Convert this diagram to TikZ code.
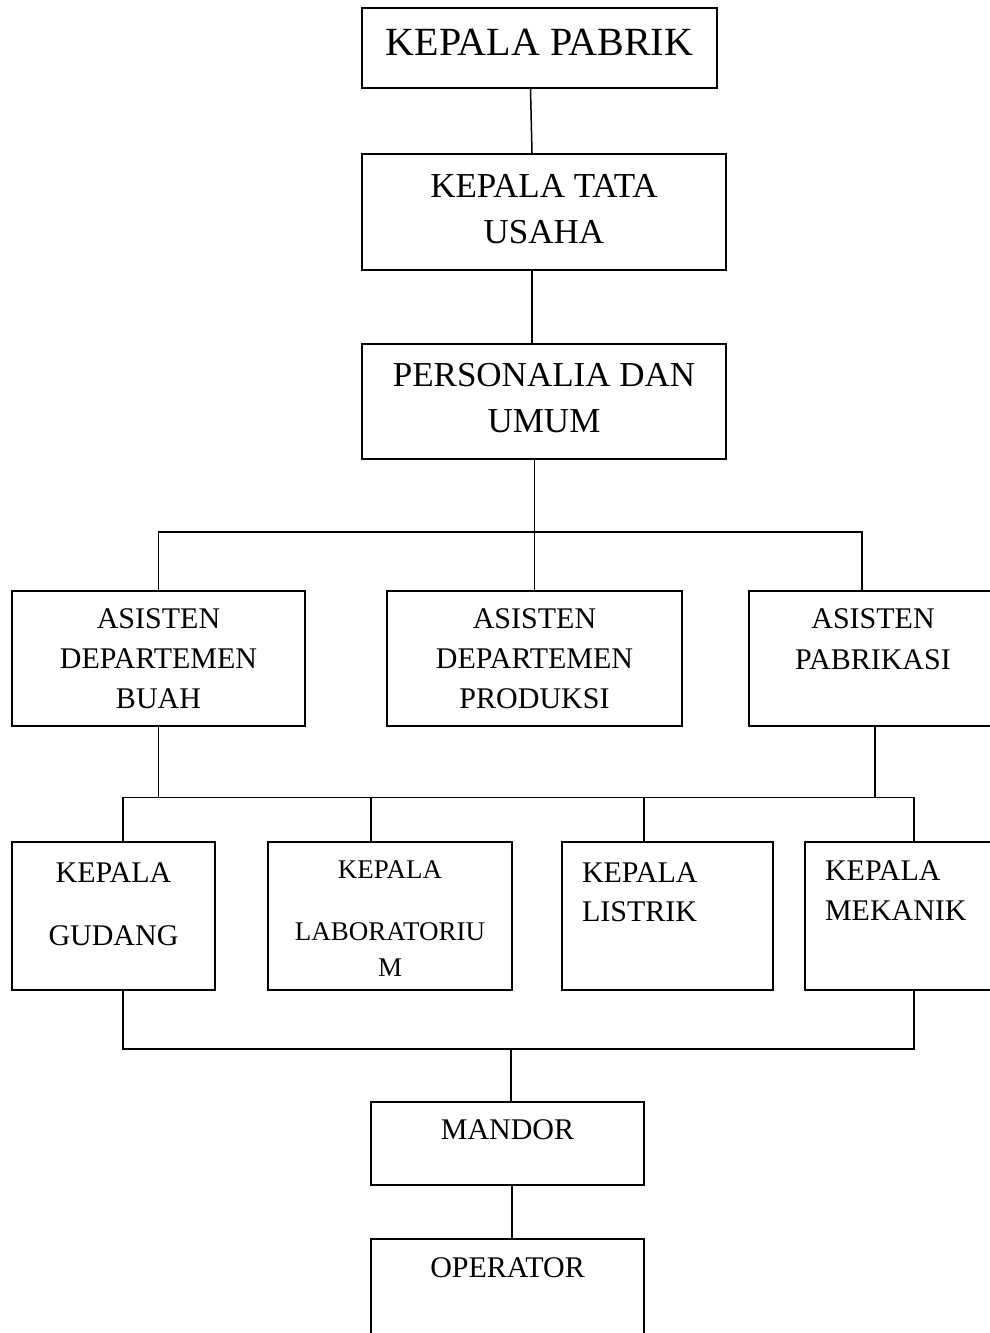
\documentclass[tikz,border=0pt]{standalone}
\usepackage{fontspec}
\setmainfont{Liberation Serif}
\usepackage{tikz}
\usetikzlibrary{positioning}
\tikzstyle{orgbox} = [rectangle, draw=black, line width=1.5pt, inner sep=0pt, align=center]
\tikzstyle{link} = [line width=1.5pt, draw=black]

\begin{document}
\begin{tikzpicture}[x=1pt, y=-1pt]
\useasboundingbox (0,0) rectangle (990,1333);
\clip (0,0) rectangle (990,1333);

% Top of the chart
\node (pabrik) [orgbox, minimum width=355pt, text height=47pt, text depth=33pt, font=\fontsize{40}{48}\selectfont] at (539.5,48) {KEPALA PABRIK};
\node (tatausaha) [orgbox, minimum width=364pt, text height=43pt, text depth=73pt, font=\fontsize{35}{46}\selectfont] at (544,212) {\begin{tabular}[t]{@{}c@{}}KEPALA TATA\\USAHA\end{tabular}};
\node (personalia) [orgbox, minimum width=364pt, text height=42pt, text depth=73pt, font=\fontsize{35}{46}\selectfont] at (544,401.5) {\begin{tabular}[t]{@{}c@{}}PERSONALIA DAN\\UMUM\end{tabular}};

% Assistants
\node (buah) [orgbox, minimum width=293pt, text height=37pt, text depth=98pt, font=\fontsize{30}{40}\selectfont] at (158.5,658.5) {\begin{tabular}[t]{@{}c@{}}ASISTEN\\DEPARTEMEN\\BUAH\end{tabular}};
\node (produksi) [orgbox, minimum width=295pt, text height=37pt, text depth=98pt, font=\fontsize{30}{40}\selectfont] at (534.5,658.5) {\begin{tabular}[t]{@{}c@{}}ASISTEN\\DEPARTEMEN\\PRODUKSI\end{tabular}};
\node (pabrikasi) [orgbox, minimum width=248pt, text height=37pt, text depth=98pt, font=\fontsize{30}{41}\selectfont] at (873,658.5) {\begin{tabular}[t]{@{}c@{}}ASISTEN\\PABRIKASI\end{tabular}};

% Heads of sections
\node (gudang) [orgbox, minimum width=203pt, text height=40pt, text depth=108pt, font=\fontsize{30}{40}\selectfont] at (113.5,916) {\begin{tabular}[t]{@{}c@{}}KEPALA\\[23pt]GUDANG\end{tabular}};
\node (lab) [orgbox, minimum width=244pt, text height=36pt, text depth=112pt, font=\fontsize{27}{36}\selectfont] at (390,916) {\begin{tabular}[t]{@{}c@{}}KEPALA\\[26pt]LABORATORIU\\M\end{tabular}};
\node (listrik) [orgbox, minimum width=211pt, text height=40pt, text depth=108pt, font=\fontsize{30}{39}\selectfont] at (667.5,916) {\begin{tabular}[t]{@{}p{171pt}@{}}KEPALA\\LISTRIK\end{tabular}};
\node (mekanik) [orgbox, minimum width=195pt, text height=38pt, text depth=110pt, font=\fontsize{30}{40}\selectfont] at (902.5,916) {\begin{tabular}[t]{@{}p{155pt}@{}}KEPALA\\MEKANIK\end{tabular}};

% Bottom
\node (mandor) [orgbox, minimum width=273pt, text height=37pt, text depth=46pt, font=\fontsize{30}{40}\selectfont] at (507.5,1143.5) {MANDOR};
\node (operator) [orgbox, minimum width=273pt, text height=38pt, text depth=68pt, font=\fontsize{30}{40}\selectfont] at (507.5,1292) {OPERATOR};

\coordinate (bus1) at (534.5,532);
\coordinate (bus2) at (516,798);
\coordinate (bus3) at (511,1049);

\draw[link] ([xshift=-9pt]pabrik.south) -- ([xshift=-12pt]tatausaha.north);
\draw[link] ([xshift=-12pt]tatausaha.south) -- ([xshift=-12pt]personalia.north);
\draw[link] (personalia.south -| produksi.north) -- (produksi.north);
\draw[link] (buah.north) |- (bus1) -| ([xshift=-11pt]pabrikasi.north);

\draw[link] (buah.south) -- (buah.south |- bus2);
\draw[link] ([xshift=2pt]pabrikasi.south) -- ([xshift=2pt]pabrikasi.south |- bus2);
\draw[link] ([xshift=9.5pt]gudang.north) -- ++(0,-44) -| ([xshift=11.5pt]mekanik.north);
\draw[link] ([xshift=-19pt]lab.north) -- ([xshift=-19pt]lab.north |- bus2);
\draw[link] ([xshift=-23.5pt]listrik.north) -- ([xshift=-23.5pt]listrik.north |- bus2);

\draw[link] ([xshift=9.5pt]gudang.south) |- (bus3) -| ([xshift=11.5pt]mekanik.south);
\draw[link] (bus3) -- ([xshift=3.5pt]mandor.north);
\draw[link] ([xshift=4.5pt]mandor.south) -- ([xshift=4.5pt]operator.north);
\end{tikzpicture}
\end{document}
